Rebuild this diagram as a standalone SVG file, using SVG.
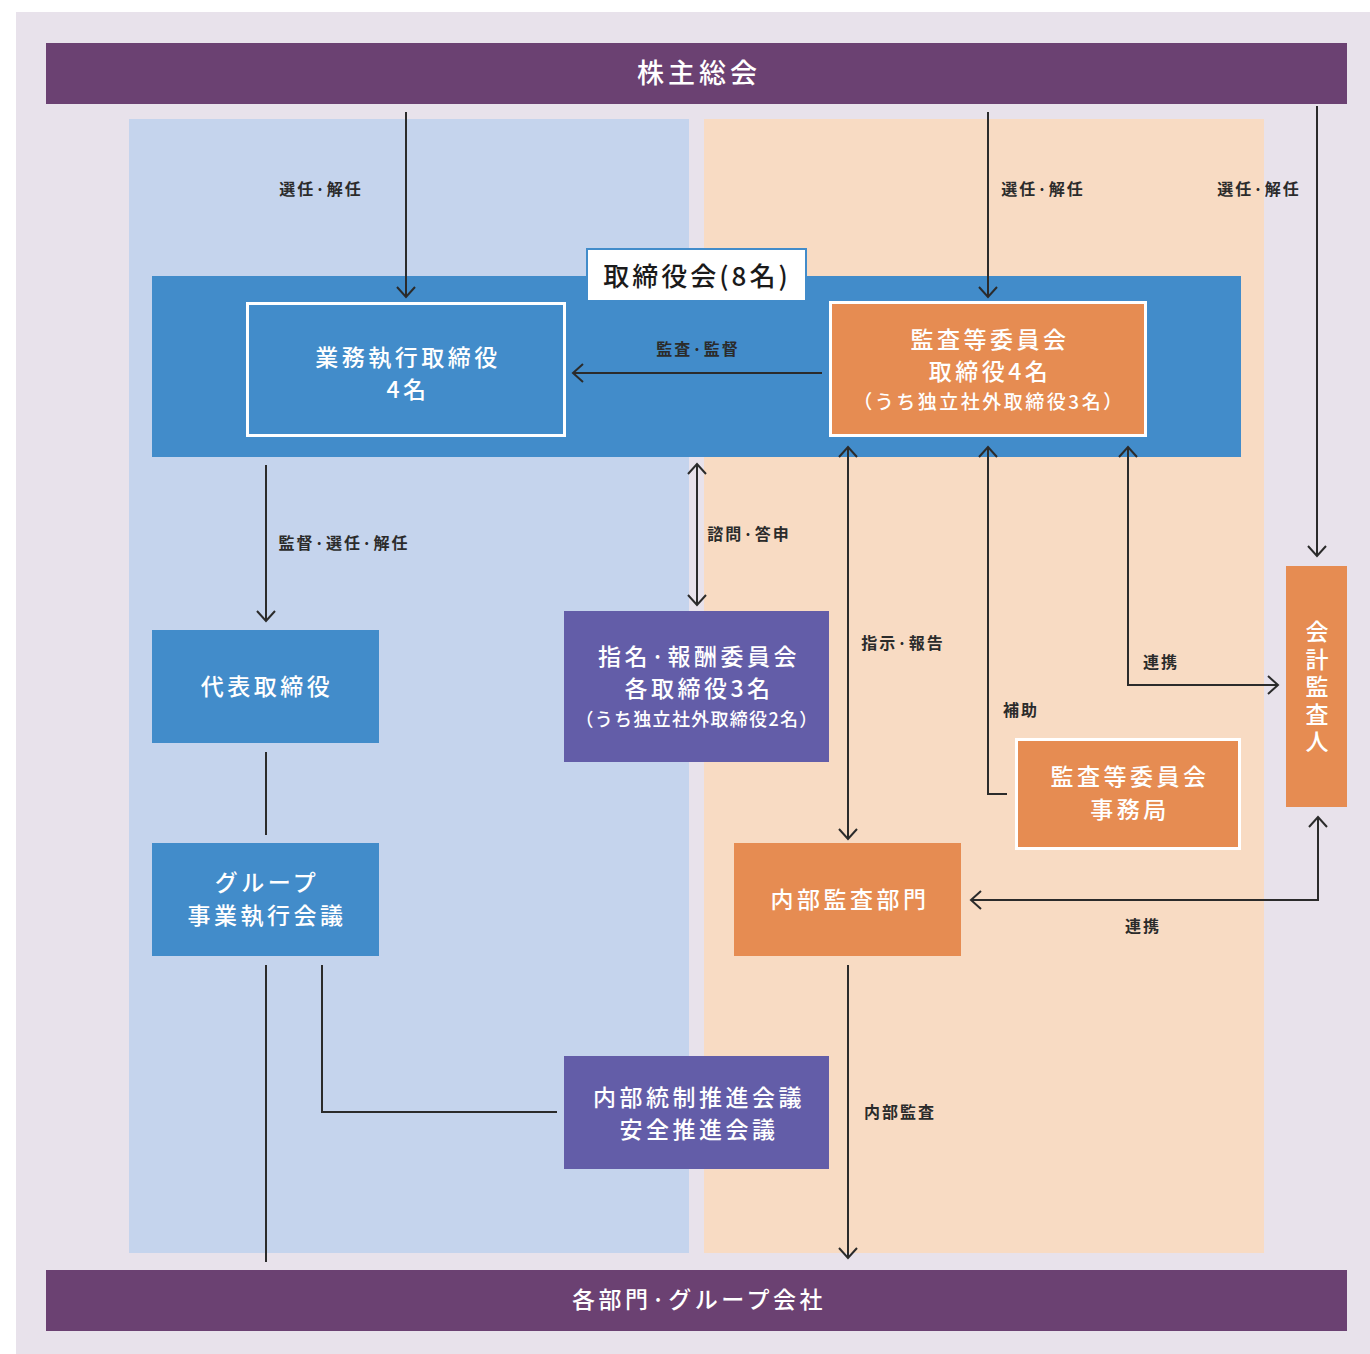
<svg xmlns="http://www.w3.org/2000/svg" width="1370" height="1354" viewBox="0 0 1370 1354">
<defs>
<style>
.lbl{font-family:"Noto Sans CJK JP","Noto Sans",sans-serif;font-size:16px;font-weight:700;fill:#2b2b2b;letter-spacing:2px}
.nt{font-family:"Noto Sans CJK JP","Noto Sans",sans-serif;font-size:23px;font-weight:500;fill:#ffffff;letter-spacing:3.5px}
.ns{font-family:"Noto Sans CJK JP","Noto Sans",sans-serif;font-size:19px;font-weight:500;fill:#ffffff;letter-spacing:2.5px}
.ns2{font-family:"Noto Sans CJK JP","Noto Sans",sans-serif;font-size:18px;font-weight:500;fill:#ffffff;letter-spacing:1.3px}
.bt{font-family:"Noto Sans CJK JP","Noto Sans",sans-serif;font-size:27px;font-weight:500;fill:#ffffff;letter-spacing:4px}
.ln{fill:none;stroke:#2b2b2b;stroke-width:2}
.blue{fill:#428cca}
.orange{fill:#e68c52}
.purple{fill:#635da8}
.bar{fill:#6b4172}
</style>
<marker id="ah" viewBox="-12 -10 14 20" refX="0" refY="0" markerWidth="14" markerHeight="20" markerUnits="userSpaceOnUse" orient="auto-start-reverse">
<path d="M-10,-9 L0,0 L-10,9" fill="none" stroke="#2b2b2b" stroke-width="2"/>
</marker>
</defs>
<rect x="0" y="0" width="1370" height="1354" fill="#ffffff"/>
<rect x="16" y="12" width="1354" height="1342" fill="#e8e2eb"/>
<rect x="129" y="119" width="560" height="1134" fill="#c5d4ed"/>
<rect x="704" y="119" width="560" height="1134" fill="#f8dbc3"/>

<g id="shareholders">
<rect class="bar" x="46" y="43" width="1301" height="61"/>
<text class="bt" x="699" y="83" text-anchor="middle">株主総会</text>
</g>

<g id="board">
<rect class="blue" x="152" y="276" width="1089" height="181"/>
<rect x="587" y="249" width="219" height="52" fill="#ffffff" stroke="#428cca" stroke-width="2"/>
<text x="697" y="286" text-anchor="middle" font-family="Noto Sans CJK JP, Noto Sans, sans-serif" font-size="26" font-weight="500" letter-spacing="3" fill="#1a1a1a">取締役会(8名)</text>
</g>

<g id="exec-directors">
<rect class="blue" x="247.5" y="303.5" width="317" height="132" stroke="#ffffff" stroke-width="3"/>
<text class="nt" x="408" y="366" text-anchor="middle">業務執行取締役</text>
<text class="nt" x="408" y="398" text-anchor="middle">4名</text>
</g>

<g id="audit-committee">
<rect class="orange" x="830.5" y="302.5" width="315" height="133" stroke="#ffffff" stroke-width="3"/>
<text class="nt" x="990" y="348" text-anchor="middle">監査等委員会</text>
<text class="nt" x="990" y="380" text-anchor="middle">取締役4名</text>
<text class="ns" x="989" y="409" text-anchor="middle">（うち独立社外取締役3名）</text>
</g>

<g id="representative">
<rect class="blue" x="152" y="630" width="227" height="113"/>
<text class="nt" x="267" y="695" text-anchor="middle">代表取締役</text>
</g>

<g id="group-meeting">
<rect class="blue" x="152" y="843" width="227" height="113"/>
<text class="nt" x="267" y="891" text-anchor="middle">グループ</text>
<text class="nt" x="267" y="924" text-anchor="middle">事業執行会議</text>
</g>

<g id="nomination-committee">
<rect class="purple" x="564" y="611" width="265" height="151"/>
<text class="nt" x="699" y="665" text-anchor="middle">指名·報酬委員会</text>
<text class="nt" x="699" y="697" text-anchor="middle">各取締役3名</text>
<text class="ns2" x="697" y="726" text-anchor="middle">（うち独立社外取締役2名）</text>
</g>

<g id="internal-control">
<rect class="purple" x="564" y="1056" width="265" height="113"/>
<text class="nt" x="699" y="1106" text-anchor="middle">内部統制推進会議</text>
<text class="nt" x="699" y="1138" text-anchor="middle">安全推進会議</text>
</g>

<g id="audit-office">
<rect class="orange" x="1016.5" y="739.5" width="223" height="109" stroke="#ffffff" stroke-width="3"/>
<text class="nt" x="1130" y="785" text-anchor="middle">監査等委員会</text>
<text class="nt" x="1130" y="818" text-anchor="middle">事務局</text>
</g>

<g id="internal-audit">
<rect class="orange" x="734" y="843" width="227" height="113"/>
<text class="nt" x="850" y="908" text-anchor="middle">内部監査部門</text>
</g>

<g id="accounting-auditor">
<rect class="orange" x="1286" y="566" width="61" height="241"/>
<text class="nt" x="1317" y="689" text-anchor="middle" style="writing-mode:vertical-rl;letter-spacing:4.5px">会計監査人</text>
</g>

<g id="departments">
<rect class="bar" x="46" y="1270" width="1301" height="61"/>
<text class="nt" x="699" y="1308" text-anchor="middle">各部門·グループ会社</text>
</g>

<g id="connectors">
<line class="ln" x1="406" y1="112" x2="406" y2="297" marker-end="url(#ah)"/>
<line class="ln" x1="988" y1="112" x2="988" y2="297" marker-end="url(#ah)"/>
<line class="ln" x1="1317" y1="106" x2="1317" y2="556" marker-end="url(#ah)"/>
<line class="ln" x1="822" y1="373" x2="573" y2="373" marker-end="url(#ah)"/>
<line class="ln" x1="697" y1="464" x2="697" y2="605" marker-start="url(#ah)" marker-end="url(#ah)"/>
<line class="ln" x1="266" y1="465" x2="266" y2="621" marker-end="url(#ah)"/>
<line class="ln" x1="848" y1="447" x2="848" y2="839" marker-start="url(#ah)" marker-end="url(#ah)"/>
<polyline class="ln" points="1007,794 988,794 988,447" marker-end="url(#ah)"/>
<polyline class="ln" points="1128,447 1128,685 1278,685" marker-start="url(#ah)" marker-end="url(#ah)"/>
<polyline class="ln" points="1318,817 1318,900 971,900" marker-start="url(#ah)" marker-end="url(#ah)"/>
<line class="ln" x1="266" y1="752" x2="266" y2="835"/>
<line class="ln" x1="266" y1="965" x2="266" y2="1262"/>
<polyline class="ln" points="322,965 322,1112 557,1112"/>
<line class="ln" x1="848" y1="965" x2="848" y2="1258" marker-end="url(#ah)"/>
<text class="lbl" x="321" y="195" text-anchor="middle">選任·解任</text>
<text class="lbl" x="1043" y="195" text-anchor="middle">選任·解任</text>
<text class="lbl" x="1259" y="195" text-anchor="middle">選任·解任</text>
<text class="lbl" x="698" y="355" text-anchor="middle">監査·監督</text>
<text class="lbl" x="749" y="540" text-anchor="middle">諮問·答申</text>
<text class="lbl" x="344" y="549" text-anchor="middle">監督·選任·解任</text>
<text class="lbl" x="903" y="649" text-anchor="middle">指示·報告</text>
<text class="lbl" x="1021" y="716" text-anchor="middle">補助</text>
<text class="lbl" x="1161" y="668" text-anchor="middle">連携</text>
<text class="lbl" x="1143" y="932" text-anchor="middle">連携</text>
<text class="lbl" x="900" y="1118" text-anchor="middle">内部監査</text>
</g>
</svg>
